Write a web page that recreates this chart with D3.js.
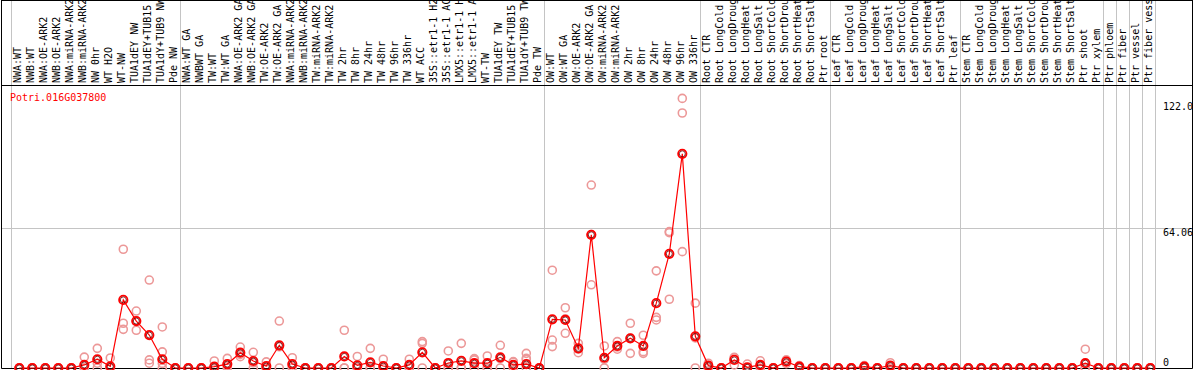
<!DOCTYPE html>
<html>
<head>
<meta charset="utf-8">
<script src="https://cdn.jsdelivr.net/npm/d3@7"></script>
<style>
html,body{margin:0;padding:0;background:#fff;}
svg{display:block;}
text{font-family:"DejaVu Sans Mono",monospace;font-size:10px;}
</style>
</head>
<body>
<svg id="chart" width="1194" height="370"></svg>
<script>
const geneName = "Potri.016G037800";

const categories = [
  "NWA:WT","NWB:WT","NWA:OE-ARK2","NWB:OE-ARK2","NWA:miRNA-ARK2","NWB:miRNA-ARK2","NW 0hr","WT H2O","WT-NW",
  "TUA1dEY NW","TUA1dEY+TUB15 NW","TUA1dY+TUB9 NW","Pde NW",
  "NWA:WT GA","NWBWT GA","TW:WT","TW:WT GA","NWA:OE-ARK2 GA","NWB:OE-ARK2 GA","TW:OE-ARK2","TW:OE-ARK2 GA",
  "NWA:miRNA-ARK2","NWB:miRNA-ARK2","TW:miRNA-ARK2","TW:miRNA-ARK2","TW 2hr","TW 8hr","TW 24hr","TW 48hr",
  "TW 96hr","TW 336hr","WT ACC","35S::etr1-1 H2O","35S::etr1-1 ACC","LMX5::etr1-1 H2O","LMX5::etr1-1 ACC",
  "WT-TW","TUA1dEY TW","TUA1dEY+TUB15 TW","TUA1dY+TUB9 TW","Pde TW",
  "OW:WT","OW:WT GA","OW:OE-ARK2","OW:OE-ARK2 GA","OW:miRNA-ARK2","OW:miRNA-ARK2","OW 2hr","OW 8hr","OW 24hr",
  "OW 48hr","OW 96hr","OW 336hr",
  "Root CTR","Root LongCold","Root LongDrought","Root LongHeat","Root LongSalt","Root ShortCold","Root ShortDrought",
  "Root ShortHeat","Root ShortSalt","Ptr root",
  "Leaf CTR","Leaf LongCold","Leaf LongDrought","Leaf LongHeat","Leaf LongSalt","Leaf ShortCold","Leaf ShortDrought",
  "Leaf ShortHeat","Leaf ShortSalt","Ptr leaf",
  "Stem CTR","Stem LongCold","Stem LongDrought","Stem LongHeat","Stem LongSalt","Stem ShortCold","Stem ShortDrought",
  "Stem ShortHeat","Stem ShortSalt","Ptr shoot","Ptr xylem",
  "Ptr phloem","Ptr fiber","Ptr vessel","Ptr fiber vessel"
];

// group boundaries (category index where a new group starts)
const groupBreaks = [0, 13, 41, 53, 63, 73, 84, 85, 86, 87, 88];

const meanValues = [
  0,0,0,0,0,1.4,4.0,0.8,31.2,21.5,15.1,4.0,0,
  0,0,0.6,1.8,7.0,3.2,0.9,10.4,1.8,0,0,0,5.3,1.2,2.6,0.9,0,1.4,7.2,0,2.3,3.3,2.2,2.2,4.9,1.4,1.8,0,
  22.3,22.0,9.0,61.0,4.7,10.1,13.6,10.1,29.7,52.3,98.1,14.5,
  1.1,0,3.7,0.3,1.4,0,2.9,0.6,0,0,
  0,0,0.6,0,1.1,0,0,0,0,0,
  0,0,0,0,0,0,0,0,0,2.2,0,
  0,0,0,0
];

const replicateValues = [
  [0,0,0],[0,0,0],[0,0,0],[0,0,0],[0,0,0],[5.0,0,0],[9.0,2.2,0],[4.6,0,0],[54.4,20.5,17.7],[26.1,21.5,17.3],
  [40.3,3.7,2.2],[18.8,7.4,2.1,0],[0,0,0],
  [0,0,0],[0,0,0],[3.2,0,0],[4.4,0.9,0],[9.6,5.2,6.2],[7.2,2.4,0],[2.8,0,0],[21.5,9.7,0],[4.7,0.7,0],
  [0,0,0],[0,0,0],[0,0,0],[17.3,0,0],[5.3,0,0],[9.0,0,0],[4.0,0,0],[0,0,0],[4.0,0,0],[12.1,11.3,0],
  [0,0,0],[7.8,0,0],[11.3,0,0],[4.3,3.7,0],[5.5,0,0],[10.4,4.3,0],[2.9,2.6,0],[6.7,4.4,4.0,0],[0,0,0],
  [44.8,12.8,9.8],[27.6,22.5,15.9],[11.3,8.7,7.0],[83.8,61.1,38.1],[10.1,4.0,0],[12.1,9.6,8.6],
  [20.5,13.6,6.7],[15.0,7.5,6.7],[44.5,23.2,22.0],[62.5,62.0,31.5],[123.5,116.8,53.3],[29.7,13.8,0],
  [2.2,1.1,0],[0,0,0],[4.7,4.9,1.4],[1.8,0,0],[3.3,1.0,0],[0,0,0],[3.7,3.0,2.0],[1.1,0.6,0],[0,0,0],[0,0,0],
  [0,0,0],[0,0,0],[1.1,0.6,0],[0,0,0],[2.4,0.9,0],[0,0,0],[0,0,0],[0,0,0],[0,0,0],[0,0,0],
  [0,0,0],[0,0,0],[0,0,0],[0,0,0],[0,0,0],[0,0,0],[0,0,0],[0,0,0],[0,0,0],[8.6,0,0],[0,0,0],
  [0,0,0],[0,0,0],[0,0,0],[0,0,0]
];

const tickValues = [0, 64.06, 122.0];
const tickLabels = ["0", "64.06", "122.0"];
const gridValues = [64.06];

const W = 1194, H = 370;
const left = 1.5, right = 1192.5, headerY = 85.5, bottom = 368.5;
const svg = d3.select("#chart");

const x = d3.scaleLinear().domain([0, categories.length - 1]).range([19.3, 19.3 + 13 * (categories.length - 1)]);
const y = d3.scaleLinear().domain([0, 128.12]).range([368, 88.3]);
const colEdge = k => Math.round(x(k) - 8.6) + 0.5;

// vertical group gridlines
svg.append("g").selectAll("line").data(groupBreaks).join("line")
  .attr("x1", colEdge).attr("x2", colEdge)
  .attr("y1", 0).attr("y2", bottom)
  .attr("stroke", "#c4c4c4").attr("stroke-width", 1);

// horizontal gridlines
svg.append("g").selectAll("line").data(gridValues).join("line")
  .attr("x1", left).attr("x2", right)
  .attr("y1", d => Math.round(y(d)) + 0.5).attr("y2", d => Math.round(y(d)) + 0.5)
  .attr("stroke", "#c4c4c4").attr("stroke-width", 1);

// frame
const frame = svg.append("g").attr("stroke", "#000").attr("stroke-width", 1);
frame.append("line").attr("x1", left).attr("x2", left).attr("y1", 0).attr("y2", bottom);
frame.append("line").attr("x1", right).attr("x2", right).attr("y1", 0).attr("y2", bottom);
frame.append("line").attr("x1", left).attr("x2", right).attr("y1", headerY).attr("y2", headerY);
frame.append("line").attr("x1", left).attr("x2", right).attr("y1", bottom).attr("y2", bottom);
frame.append("line").attr("x1", left).attr("x2", right).attr("y1", 0.5).attr("y2", 0.5);

// rotated category labels
svg.append("g").selectAll("text").data(categories).join("text")
  .attr("transform", (d, i) => `translate(${x(i) + 1.7},83) rotate(-90)`)
  .attr("fill", "#000")
  .text(d => d.substring(0, 14));

// title
svg.append("text").attr("x", 10).attr("y", 101).attr("fill", "#ff0000").text(geneName);

// right tick labels
svg.append("g").selectAll("text").data(tickValues).join("text")
  .attr("x", 1163)
  .attr("y", d => Math.min(y(d) + 8.3, 365.5))
  .attr("fill", "#000")
  .text((d, i) => tickLabels[i]);

// replicate points
const reps = [];
replicateValues.forEach((arr, i) => arr.forEach(v => reps.push({ i, v })));
svg.append("g").selectAll("circle").data(reps).join("circle")
  .attr("cx", d => x(d.i)).attr("cy", d => y(d.v)).attr("r", 4)
  .attr("fill", "none").attr("stroke", "#ec9898").attr("stroke-width", 1.6);

// mean line
const line = d3.line().x((d, i) => x(i)).y(d => y(d));
svg.append("path").datum(meanValues).attr("d", line)
  .attr("fill", "none").attr("stroke", "#ff0000").attr("stroke-width", 1.2);

// mean points
const mg = svg.append("g").selectAll("g").data(meanValues).join("g");
mg.append("circle").attr("cx", (d, i) => x(i)).attr("cy", d => y(d)).attr("r", 4.2)
  .attr("fill", "none").attr("stroke", "#ff0000").attr("stroke-width", 1.8);
mg.append("circle").attr("cx", (d, i) => x(i)).attr("cy", d => y(d)).attr("r", 3)
  .attr("fill", "none").attr("stroke", "#600").attr("stroke-width", 0.8);
</script>
</body>
</html>
